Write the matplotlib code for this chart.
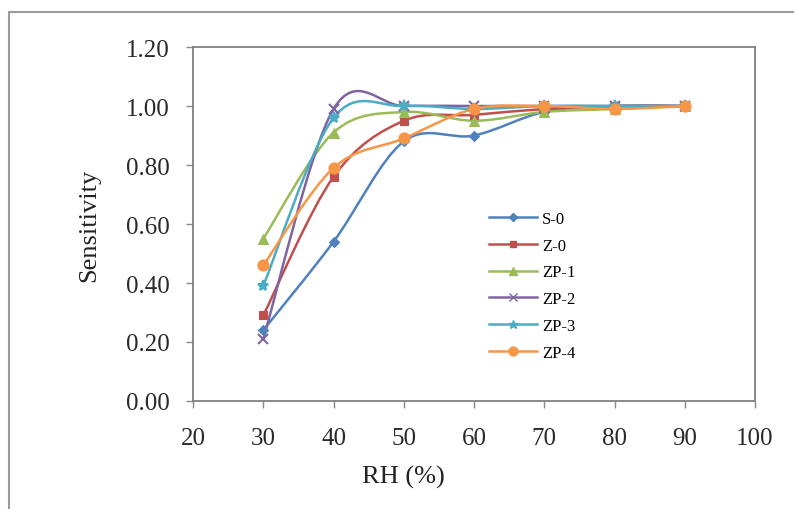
import numpy as np
from matplotlib import pyplot as plt
from matplotlib.path import Path
from matplotlib.patches import PathPatch, Rectangle

# relative humidity (%) and sensitivity of each sample
rh = [30, 40, 50, 60, 70, 80, 90]
s0 = [0.24, 0.54, 0.88, 0.90, 0.98, 1.00, 1.00]
z0 = [0.29, 0.76, 0.95, 0.97, 0.99, 1.00, 1.00]
zp1 = [0.55, 0.91, 0.98, 0.95, 0.98, 0.99, 1.00]
zp2 = [0.21, 0.99, 1.00, 1.00, 1.00, 1.00, 1.00]
zp3 = [0.39, 0.96, 1.00, 0.99, 1.00, 1.00, 1.00]
zp4 = [0.46, 0.79, 0.89, 0.99, 1.00, 0.99, 1.00]

names = ['S-0', 'Z-0', 'ZP-1', 'ZP-2', 'ZP-3', 'ZP-4']
series = [s0, z0, zp1, zp2, zp3, zp4]
colors = ['#4F81BD', '#C0504D', '#9BBB59', '#8064A2', '#4BACC6', '#F79646']
markers = ['D', 's', '^', 'x', '*', 'o']
msizes = [5, 6, 7, 7, 8, 8]

xticks = [20, 30, 40, 50, 60, 70, 80, 90, 100]
yticks = [0.0, 0.2, 0.4, 0.6, 0.8, 1.0, 1.2]

serif = 'Liberation Serif'


# excel style smoothed line, drawn as bezier segments through the points
def smooth_path(x, y):
    pts = np.column_stack([x, y]).astype(float)
    n = len(pts)
    verts = [pts[0]]
    codes = [Path.MOVETO]
    for i in range(n - 1):
        p0 = pts[i - 1] if i > 0 else pts[i]
        p1 = pts[i]
        p2 = pts[i + 1]
        p3 = pts[i + 2] if i + 2 < n else pts[i + 1]
        c1 = p1 + (p2 - p0) / 6.0
        c2 = p2 - (p3 - p1) / 6.0
        verts += [c1, c2, p2]
        codes += [Path.CURVE4] * 3
    return Path(verts, codes)


fig = plt.figure(figsize=(7.94, 5.10), dpi=100)
ax = fig.add_axes([0.2431, 0.2118, 0.7078, 0.694])

for vals, name, c, m, ms in zip(series, names, colors, markers, msizes):
    ax.add_patch(PathPatch(smooth_path(rh, vals), facecolor='none',
                           edgecolor=c, lw=1.8, zorder=2))
    ax.plot(rh, vals, linestyle='none', marker=m, color=c, ms=ms,
            mew=1.5 if m in 'x*' else 0.8, zorder=3)
    # legend proxy
    ax.plot([], [], '-', color=c, marker=m, ms=ms * 0.8, lw=1.8, label=name)

ax.set_xlim(20, 100)
ax.set_ylim(0, 1.2)
ax.set_xticks(xticks)
ax.set_yticks(yticks)
ax.set_xticklabels([str(v) for v in xticks], family=serif, fontsize=18, color='#2a2a2a')
ax.set_yticklabels(['%.2f' % v for v in yticks], family=serif, fontsize=18, color='#2a2a2a')
ax.tick_params(direction='out', length=5, width=1, color='#888888', pad=12)
ax.tick_params(axis='x', pad=14)

for sp in ax.spines.values():
    sp.set_color('#808080')
    sp.set_linewidth(1.3)

ax.set_xlabel('RH (%)', family=serif, fontsize=19, color='#222222')
ax.set_ylabel('Sensitivity', family=serif, fontsize=19, color='#222222')
ax.xaxis.set_label_coords(0.374, -0.18)
ax.yaxis.set_label_coords(-0.165, 0.5)

leg = ax.legend(loc='upper left', bbox_to_anchor=(0.5, 0.58), frameon=False,
                prop={'family': serif, 'size': 12}, handlelength=2.9,
                labelspacing=0.65, handletextpad=0.3)

# outer frame of the picture
fig.patches.append(Rectangle((9 / 794, -0.05), 1.2, (510 - 13) / 510 + 0.05,
                             transform=fig.transFigure, facecolor='none',
                             edgecolor='#9a9a9a', lw=1.5))

fig.savefig('out.png', dpi=100)
